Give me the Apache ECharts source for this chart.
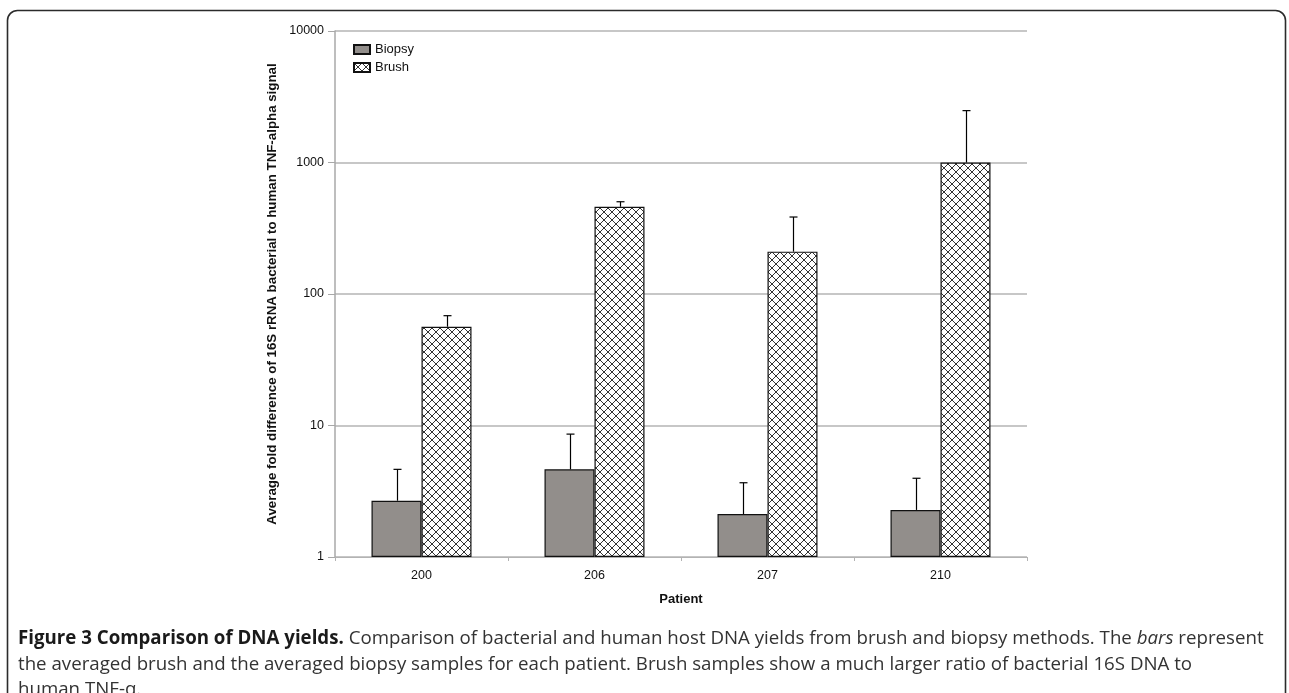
<!DOCTYPE html>
<html>
<head>
<meta charset="utf-8">
<script src="https://cdn.jsdelivr.net/npm/echarts@6/dist/echarts.min.js"></script>
<style>
html,body{margin:0;padding:0;background:#fff;}
#c{width:1289px;height:693px;}
</style>
</head>
<body>
<div id="c"></div>
<script>
const categories = ['200', '206', '207', '210'];
const biopsy = [2.68, 4.64, 2.12, 2.28];
const biopsyUpper = [4.64, 8.6, 3.67, 3.97];
const brush = [56.4, 461, 210, 1000];
const brushUpper = [68.4, 503, 385, 2480];
const seriesNames = ['Biopsy', 'Brush'];
const yAxisTitle = 'Average fold difference of 16S rRNA bacterial to human TNF-alpha signal';
const xAxisTitle = 'Patient';

function hatch() {
  const s = 8;
  const c = document.createElement('canvas');
  c.width = s; c.height = s;
  const g = c.getContext('2d');
  g.fillStyle = '#fff';
  g.fillRect(0, 0, s, s);
  g.strokeStyle = '#333';
  g.lineWidth = 1;
  g.beginPath();
  g.moveTo(0, 0); g.lineTo(s, s);
  g.moveTo(s, 0); g.lineTo(0, s);
  g.moveTo(-1, 1); g.lineTo(1, -1);
  g.moveTo(s - 1, s + 1); g.lineTo(s + 1, s - 1);
  g.stroke();
  return c;
}
const hatchPattern = { image: hatch(), repeat: 'repeat' };

const BW = 50;
function errRender(offset) {
  return function (params, api) {
    const x = api.value(0);
    const p0 = api.coord([x, api.value(1)]);
    const p1 = api.coord([x, api.value(2)]);
    const cx = Math.round(p0[0] + offset) + 0.5;
    return {
      type: 'group',
      children: [
        { type: 'line', shape: { x1: cx, y1: p0[1], x2: cx, y2: p1[1] }, style: { stroke: '#000', lineWidth: 1.2 } },
        { type: 'line', shape: { x1: cx - 4, y1: p1[1], x2: cx + 4, y2: p1[1] }, style: { stroke: '#000', lineWidth: 1.2 } }
      ]
    };
  };
}

const chart = echarts.init(document.getElementById('c'), null, { renderer: 'canvas' });
const font = 'Liberation Sans, Arial, sans-serif';
const capFont = '"Open Sans", "Noto Sans", sans-serif';

chart.setOption({
  animation: false,
  backgroundColor: '#fff',
  textStyle: { fontFamily: font },
  grid: { left: 335, right: 262, top: 31, bottom: 136, containLabel: false },
  legend: {
    orient: 'vertical', left: 348, top: 38, itemGap: 5,
    itemWidth: 16, itemHeight: 9,
    textStyle: { fontFamily: font, fontSize: 13, color: '#111' },
    data: [
      { name: seriesNames[0], icon: 'rect' },
      { name: seriesNames[1], icon: 'rect' }
    ]
  },
  xAxis: {
    type: 'category', data: categories,
    name: xAxisTitle, nameLocation: 'middle', nameGap: 36,
    nameTextStyle: { fontFamily: font, fontSize: 13, fontWeight: 'bold', color: '#111' },
    axisLine: { lineStyle: { color: '#b3b3b3', width: 1 } },
    axisTick: { show: true, length: 4, lineStyle: { color: '#b3b3b3' } },
    axisLabel: { fontFamily: font, fontSize: 12.5, color: '#111', margin: 12 },
    splitLine: { show: false }
  },
  yAxis: {
    type: 'log', logBase: 10, min: 1, max: 10000,
    name: yAxisTitle, nameLocation: 'middle', nameGap: 50, nameRotate: 90,
    nameTextStyle: { fontFamily: font, fontSize: 13.3, fontWeight: 'bold', color: '#111' },
    axisLine: { show: true, lineStyle: { color: '#a8a8a8', width: 1.5 } },
    axisTick: { show: true, length: 7, lineStyle: { color: '#a8a8a8' } },
    axisLabel: { fontFamily: font, fontSize: 12.5, color: '#111', margin: 11, formatter: function (v) { return String(v); } },
    splitLine: { show: true, lineStyle: { color: '#b5b5b5', width: 1.5 } },
    minorTick: { show: false }
  },
  series: [
    {
      name: seriesNames[0], type: 'bar', data: biopsy, barWidth: BW, barGap: '0%',
      itemStyle: { color: '#928e8b', borderColor: '#111', borderWidth: 1.2 }
    },
    {
      name: seriesNames[1], type: 'bar', data: brush, barWidth: BW, barGap: '0%',
      itemStyle: { color: hatchPattern, borderColor: '#111', borderWidth: 1.2 }
    },
    {
      type: 'custom', name: 'biopsyErr', silent: true, z: 5,
      renderItem: errRender(-BW / 2),
      encode: { x: 0, y: [1, 2] },
      data: categories.map((c, i) => [i, biopsy[i], biopsyUpper[i]])
    },
    {
      type: 'custom', name: 'brushErr', silent: true, z: 5,
      renderItem: errRender(BW / 2),
      encode: { x: 0, y: [1, 2] },
      data: categories.map((c, i) => [i, brush[i], brushUpper[i]])
    }
  ],
  graphic: [
    {
      type: 'rect', silent: true, z: 100,
      shape: { x: 7.5, y: 10.5, width: 1278, height: 760, r: 10 },
      style: { fill: 'none', stroke: '#2b2b2b', lineWidth: 1.6 }
    },
    {
      type: 'text', left: 18, top: 626, z: 100,
      style: {
        text: '{b|Figure 3 Comparison of DNA yields.} Comparison of bacterial and human host DNA yields from brush and biopsy methods. The {i|bars} represent\nthe averaged brush and the averaged biopsy samples for each patient. Brush samples show a much larger ratio of bacterial 16S DNA to\nhuman TNF-\u03b1.',
        font: '18.7px ' + capFont,
        fill: '#333',
        lineHeight: 25.5,
        rich: {
          b: { fontFamily: capFont, fontSize: 18.7, fontWeight: 'bold', fill: '#1a1a1a', lineHeight: 25.5 },
          i: { fontFamily: capFont, fontSize: 18.7, fontStyle: 'italic', fill: '#333', lineHeight: 25.5 }
        }
      }
    }
  ]
});
</script>
</body>
</html>
